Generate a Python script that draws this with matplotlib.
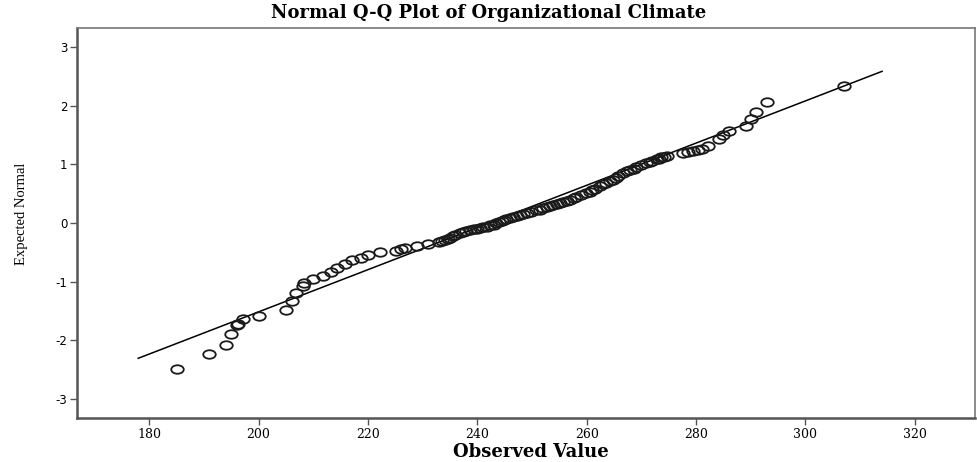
import numpy as np
import matplotlib
matplotlib.use("Agg")
import matplotlib.pyplot as plt
from matplotlib.path import Path
from matplotlib.transforms import Affine2D

observed = [185.0, 191.0, 194.0, 195.0, 196.0, 196.2, 197.2, 200.1, 205.1, 206.2,
            206.9, 208.2, 208.3, 210.0, 211.8, 213.3, 214.3, 215.8, 217.0, 218.8,
            220.0, 222.2, 225.2, 226.0, 226.7, 228.9, 231.0, 232.9, 233.5, 234.0,
            234.6, 235.0, 235.5, 236.0, 236.8, 237.4, 238.0, 238.6, 239.3, 240.0,
            240.5, 241.1, 241.7, 242.4, 243.0, 243.5, 244.0, 244.5, 244.9, 245.3,
            245.9, 246.5, 247.2, 247.8, 248.4, 249.0, 249.8, 250.8, 251.4, 252.0,
            252.7, 253.3, 253.9, 254.5, 255.1, 255.7, 256.4, 257.0, 257.6, 258.1,
            259.0, 259.8, 260.6, 261.0, 261.5, 262.4, 263.0, 263.5, 264.2, 264.8,
            265.3, 265.8, 266.7, 267.3, 268.0, 268.6, 269.1, 270.0, 270.9, 271.5,
            272.0, 272.8, 273.2, 273.6, 274.1, 274.6, 277.6, 278.6, 279.5, 280.3,
            281.0, 282.2, 284.1, 285.0, 286.1, 289.1, 290.1, 291.0, 293.0, 307.0]
expected = [-2.50, -2.24, -2.08, -1.90, -1.74, -1.73, -1.64, -1.58, -1.48, -1.34,
            -1.20, -1.08, -1.02, -0.96, -0.91, -0.83, -0.76, -0.70, -0.64, -0.59,
            -0.54, -0.49, -0.47, -0.44, -0.42, -0.39, -0.36, -0.32, -0.30, -0.29,
            -0.27, -0.25, -0.23, -0.21, -0.17, -0.16, -0.14, -0.12, -0.11, -0.10,
            -0.09, -0.07, -0.06, -0.04, -0.03, 0.00, 0.01, 0.03, 0.05, 0.06,
            0.08, 0.10, 0.12, 0.14, 0.16, 0.17, 0.19, 0.22, 0.23, 0.25,
            0.27, 0.29, 0.30, 0.32, 0.34, 0.36, 0.38, 0.40, 0.42, 0.45,
            0.48, 0.51, 0.53, 0.56, 0.58, 0.63, 0.66, 0.68, 0.71, 0.74,
            0.77, 0.80, 0.86, 0.88, 0.91, 0.93, 0.96, 0.99, 1.02, 1.04,
            1.06, 1.09, 1.10, 1.12, 1.13, 1.15, 1.19, 1.21, 1.23, 1.25,
            1.27, 1.31, 1.43, 1.50, 1.57, 1.66, 1.78, 1.90, 2.06, 2.34]

# reference line end points
line_x = [178, 314]
line_y = [-2.31, 2.59]

xticks = [180, 200, 220, 240, 260, 280, 300, 320]
yticks = [-3, -2, -1, 0, 1, 2, 3]

fig = plt.figure(figsize=(9.77, 4.62), dpi=100)
ax = fig.add_axes([0.0788, 0.0952, 0.9192, 0.8442])

# slightly flattened open circle, like the original
ellipse = Affine2D().scale(1, 0.68).transform_path(Path.unit_circle())

ax.plot(line_x, line_y, color="black", lw=1.1, zorder=2)
ax.plot(observed, expected, linestyle="none", marker=ellipse, ms=9,
        mfc="none", mec="#1a1a1a", mew=1.3, zorder=3)

ax.set_xlim(166.8, 331)
ax.set_ylim(-3.33, 3.33)
ax.set_xticks(xticks)
ax.set_yticks(yticks)
ax.set_xticklabels([str(t) for t in xticks], family="DejaVu Serif", fontsize=9)
ax.set_yticklabels([str(t) for t in yticks], family="DejaVu Sans", fontsize=8.5)
ax.tick_params(direction="out", length=5, width=1, color="#555555", pad=2)

for side in ["left", "bottom"]:
    ax.spines[side].set_color("#555555")
    ax.spines[side].set_linewidth(1.8)
for side in ["top", "right"]:
    ax.spines[side].set_color("#777777")
    ax.spines[side].set_linewidth(1.2)

fig.text(0.5, 0.972, "Normal Q-Q Plot of Organizational Climate", family="DejaVu Serif",
         fontweight="bold", fontsize=13, ha="center", va="center")
ax.set_xlabel("Observed Value", family="DejaVu Serif", fontweight="bold", fontsize=13)
ax.xaxis.set_label_coords(0.505, -0.088)
ax.xaxis.label.set_va("center")
ax.set_ylabel("Expected Normal", family="Liberation Serif", fontsize=10.5)
ax.yaxis.set_label_coords(-0.062, 0.523)
ax.yaxis.label.set_va("center")

fig.savefig("out.png", dpi=100)
